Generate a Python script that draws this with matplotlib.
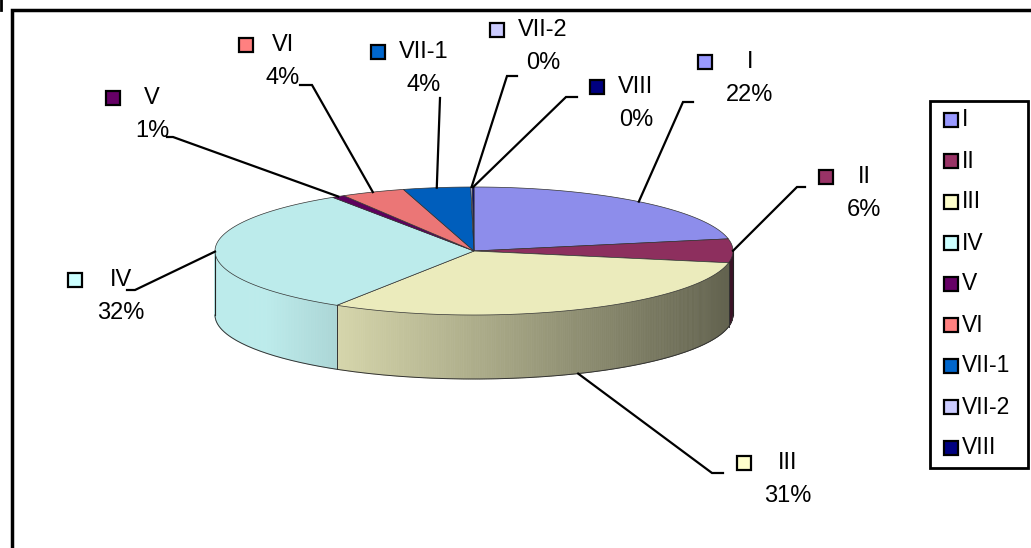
import numpy as np
import matplotlib
matplotlib.use("Agg")
import matplotlib.pyplot as plt
from matplotlib.patches import Polygon, Rectangle
from matplotlib.colors import to_rgb

plt.rcParams['font.family'] = ['Liberation Sans', 'DejaVu Sans']

# data
labels = ["I", "II", "III", "IV", "V", "VI", "VII-1", "VII-2", "VIII"]
values = [22.0, 6.0, 31.0, 32.0, 0.8, 4.0, 4.2, 0.1, 0.1]
colors = ["#9999FF", "#993366", "#FFFFCC", "#CCFFFF", "#660066",
          "#FF8080", "#0066CC", "#CCCCFF", "#000080"]

# pie geometry (pixels)
CX, CY = 474, 251
RX, RY = 259, 64
DEPTH = 64

# label layout: text centre x, first line y, leader elbow, leader end
label_pos = {
    "I": (750, 62, (683, 102), (693, 102)),
    "II": (864, 177, (797, 187), (805, 187)),
    "III": (788, 463, (712, 473), (723, 473)),
    "IV": (121, 280, (135, 290), (127, 290)),
    "V": (152, 98, (173, 137), (167, 137)),
    "VI": (283, 45, (312, 85), (300, 85)),
    "VII-1": (424, 52, (440, 98), (440, 98)),
    "VII-2": (543, 30, (507, 76), (517, 76)),
    "VIII": (636, 87, (566, 97), (577, 97)),
}
marker_x = {"I": 705, "II": 826, "III": 744, "IV": 75, "V": 113,
            "VI": 246, "VII-1": 378, "VII-2": 497, "VIII": 597}


def ell(a_deg, dy=0.0):
    # a_deg: clockwise angle from 12 o'clock
    t = np.radians(90 - np.asarray(a_deg))
    return CX + RX * np.cos(t), CY - RY * np.sin(t) + dy


def shade(c, f):
    r, g, b = to_rgb(c)
    return (r * f, g * f, b * f)


fig = plt.figure(figsize=(10.31, 5.48), dpi=100)
ax = fig.add_axes([0, 0, 1, 1])
ax.set_xlim(0, 1031)
ax.set_ylim(548, 0)
ax.axis('off')

total = sum(values)
bounds = np.concatenate([[0], np.cumsum(values) / total * 360])

# side wall (front half, clockwise 90..270)
for i, c in enumerate(colors):
    a0, a1 = max(bounds[i], 90), min(bounds[i + 1], 270)
    if a1 <= a0:
        continue
    steps = np.linspace(a0, a1, max(int((a1 - a0) * 2), 2))
    for s0, s1 in zip(steps[:-1], steps[1:]):
        x0, y0 = ell(s0)
        x1, y1 = ell(s1)
        u = ((x0 + x1) / 2 - (CX - RX)) / (2 * RX)
        f = min(0.92, 0.98 - 0.6 * u)
        col = shade(c, f)
        ax.add_patch(Polygon([(x0, y0), (x1, y1), (x1, y1 + DEPTH), (x0, y0 + DEPTH)],
                             closed=True, fc=col, ec=col, lw=0.5))
    for a in (a0, a1):
        if a in (90, 270):
            continue
        x, y = ell(a)
        ax.plot([x, x], [y, y + DEPTH], color="#333333", lw=0.6)

arc = np.linspace(90, 270, 200)
bx, by = ell(arc, DEPTH)
ax.plot(bx, by, color="#333333", lw=0.7)
for a in (90, 270):
    x, y = ell(a)
    ax.plot([x, x], [y, y + DEPTH], color="#222222", lw=0.8)

# top face
for i, c in enumerate(colors):
    a0, a1 = bounds[i], bounds[i + 1]
    arc = np.linspace(a0, a1, max(int((a1 - a0) * 3), 2))
    xs, ys = ell(arc)
    pts = [(CX, CY)] + list(zip(xs, ys))
    ax.add_patch(Polygon(pts, closed=True, fc=shade(c, 0.92),
                         ec="#333333", lw=0.5, zorder=3))

# data labels and leaders
for i, lab in enumerate(labels):
    mid = (bounds[i] + bounds[i + 1]) / 2
    t = np.radians(90 - mid)
    x, y = ell(mid)
    if np.sin(t) < -0.5:
        y = y + DEPTH
    tx, ty, elbow, end = label_pos[lab]
    ax.plot([x, elbow[0], end[0]], [y, elbow[1], end[1]], color="black",
            lw=1.6, zorder=4, solid_joinstyle='miter')
    pct = f"{values[i] / total * 100:.0f}%"
    ax.add_patch(Rectangle((marker_x[lab] - 7, ty - 7), 14, 14, fc=colors[i],
                           ec="black", lw=1.6, zorder=5))
    ax.text(tx, ty, lab, ha="center", va="center", fontsize=17, zorder=5)
    ax.text(tx, ty + 33, pct, ha="center", va="center", fontsize=17, zorder=5)

# legend
ax.add_patch(Rectangle((930, 101), 98, 367, fc="white", ec="black", lw=2, zorder=5))
for i, lab in enumerate(labels):
    ly = 120 + i * 41
    ax.add_patch(Rectangle((944, ly - 7), 14, 14, fc=colors[i], ec="black",
                           lw=1.6, zorder=6))
    ax.text(962, ly, lab, ha="left", va="center", fontsize=16.5, zorder=6)

# chart frame
ax.plot([12, 12, 1031], [548, 10, 10], color="black", lw=2.5,
        solid_joinstyle='miter')
ax.plot([1, 1], [0, 10], color="black", lw=2)

fig.savefig("out.png", dpi=100)
